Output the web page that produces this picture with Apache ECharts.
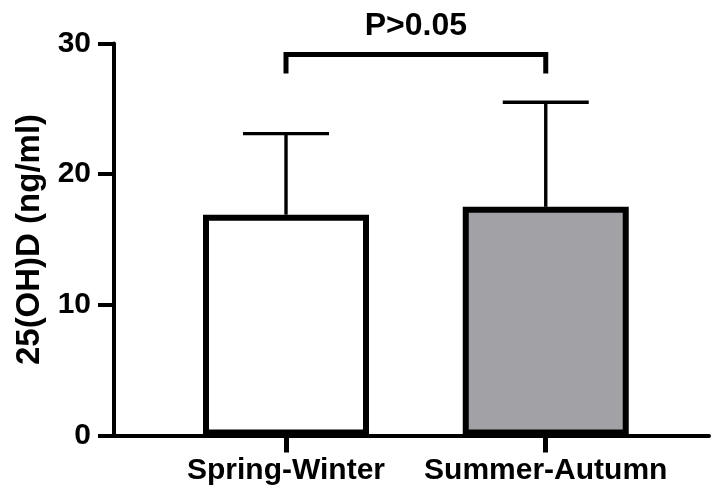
<!DOCTYPE html>
<html><head><meta charset="utf-8">
<script src="https://cdn.jsdelivr.net/npm/echarts@6/dist/echarts.min.js"></script>
<style>html,body{margin:0;padding:0;background:#fff}#c{width:711px;height:491px}</style>
</head><body><div id="c"></div>
<script>
const categories = ['Spring-Winter', 'Summer-Autumn'];
const means = [16.9, 17.5];
const errorTops = [23.1, 25.5];
const barColors = ['#ffffff', '#a2a1a6'];
const yTicks = [0, 10, 20, 30];
const bracketPair = [0, 1];
const bracketLevel = [29.15, 27.7];
const bracketLabel = 'P>0.05';
const yTitle = '25(OH)D (ng/ml)';

const FONT = '"Liberation Sans", Arial, sans-serif';
const catIdx = categories.map((c, i) => i);

const chart = echarts.init(document.getElementById('c'), null, {renderer: 'canvas'});
chart.setOption({
  animation: false,
  backgroundColor: '#fff',
  grid: {left: 114, right: 2, top: 43.5, bottom: 55.5, containLabel: false, outerBoundsMode: 'none'},
  xAxis: {
    type: 'value',
    min: -0.6622, max: 1.6285,
    splitLine: {show: false},
    axisLine: {show: true, onZero: false, lineStyle: {color: '#000', width: 4}},
    axisTick: {show: true, customValues: catIdx, length: 17, lineStyle: {color: '#000', width: 5}},
    axisLabel: {show: true, customValues: catIdx, margin: 20,
      formatter: v => categories[Math.round(v)] || '',
      color: '#000', fontFamily: FONT, fontWeight: 'bold', fontSize: 30}
  },
  yAxis: {
    type: 'value', min: yTicks[0], max: yTicks[yTicks.length - 1], interval: 10,
    name: yTitle, nameLocation: 'middle', nameGap: 66,
    nameTextStyle: {color: '#000', fontFamily: FONT, fontWeight: 'bold', fontSize: 33},
    splitLine: {show: false},
    axisLine: {show: true, onZero: false, lineStyle: {color: '#000', width: 4}},
    axisTick: {show: true, length: 16, lineStyle: {color: '#000', width: 4}},
    axisLabel: {margin: 23, color: '#000', fontFamily: FONT, fontWeight: 'bold', fontSize: 30}
  },
  series: [
    {
      type: 'bar',
      barWidth: 166,
      z: 2,
      data: categories.map((c, i) => ({value: [i, means[i]], itemStyle: {color: barColors[i]}})),
      itemStyle: {borderColor: '#000', borderWidth: 6}
    },
    {
      type: 'custom',
      z: 3,
      encode: {x: 0, y: [1, 2]},
      data: categories.map((c, i) => [i, means[i], errorTops[i]]),
      renderItem: function (params, api) {
        const lo = api.coord([api.value(0), api.value(1)]);
        const hi = api.coord([api.value(0), api.value(2)]);
        const half = 43;
        const st = {stroke: '#000', lineWidth: 3.4};
        return {type: 'group', children: [
          {type: 'line', shape: {x1: hi[0], y1: lo[1], x2: hi[0], y2: hi[1]}, style: st},
          {type: 'line', shape: {x1: hi[0] - half, y1: hi[1], x2: hi[0] + half, y2: hi[1]}, style: st}
        ]};
      }
    },
    {
      type: 'custom',
      z: 4,
      clip: false,
      encode: {x: [0, 1], y: [2, 3]},
      data: [[bracketPair[0], bracketPair[1], bracketLevel[0], bracketLevel[1]]],
      renderItem: function (params, api) {
        const a = api.coord([api.value(0), api.value(2)]);
        const b = api.coord([api.value(1), api.value(2)]);
        const leg = api.coord([api.value(0), api.value(3)]);
        return {type: 'group', children: [
          {type: 'polyline', shape: {points: [[a[0], leg[1]], [a[0], a[1]], [b[0], b[1]], [b[0], leg[1]]]},
            style: {stroke: '#000', lineWidth: 5, fill: null, lineJoin: 'miter', lineCap: 'butt'}},
          {type: 'text', x: (a[0] + b[0]) / 2, y: a[1] - 28,
            style: {text: bracketLabel, fill: '#000', font: 'bold 32px ' + FONT, align: 'center', verticalAlign: 'middle'}}
        ]};
      }
    }
  ]
});
</script></body></html>
